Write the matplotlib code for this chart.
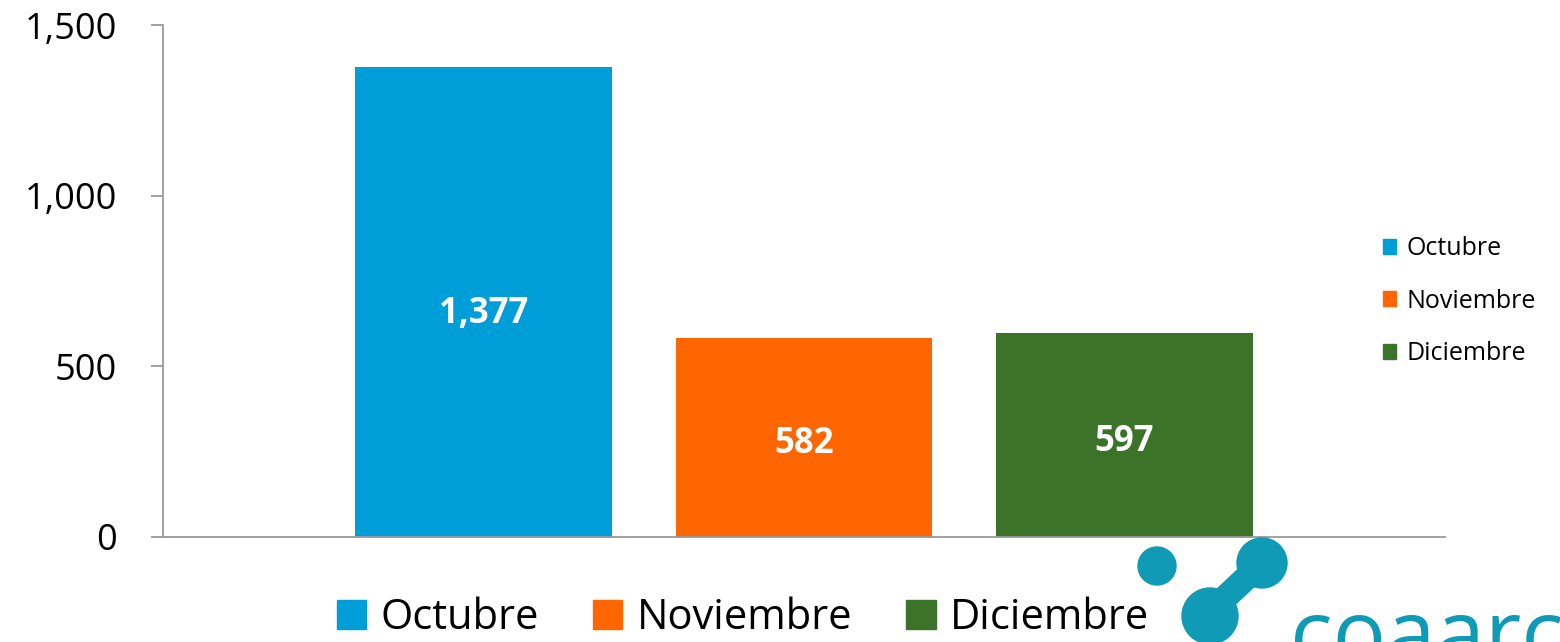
import matplotlib
matplotlib.use("Agg")
import matplotlib.pyplot as plt
from matplotlib.patches import Patch, Circle

categories = ["Octubre", "Noviembre", "Diciembre"]
values = [1377, 582, 597]
value_labels = ["1,377", "582", "597"]
colors = ["#009ED8", "#FF6600", "#3C7328"]
yticks = [0, 500, 1000, 1500]
ytick_labels = ["0", "500", "1,000", "1,500"]

plt.rcParams['font.family'] = ['Open Sans', 'DejaVu Sans']

W, H = 1560, 642
fig = plt.figure(figsize=(W / 100, H / 100), dpi=100)
ax = fig.add_axes([163 / W, 1 - 537 / H, (1445 - 163) / W, (537 - 25) / H])

x = [0, 1, 2]
bars = ax.bar(x, values, width=0.8, color=colors, zorder=2)
offsets = [-35, -20, -20]
for b, lab, off in zip(bars, value_labels, offsets):
    ax.text(b.get_x() + b.get_width() / 2, b.get_height() / 2 + off, lab,
            ha="center", va="center", color="white", fontsize=25, fontweight="bold")

ax.set_xlim(-1.0, 3.0)
ax.set_ylim(0, 1500)
ax.set_yticks(yticks)
ax.set_yticklabels(ytick_labels, fontsize=26)
ax.set_xticks([])
for s in ["top", "right"]:
    ax.spines[s].set_visible(False)
for s in ["left", "bottom"]:
    ax.spines[s].set_color("#9A9A9A")
    ax.spines[s].set_linewidth(1.3)
ax.tick_params(axis="y", length=9, width=1.3, color="#9A9A9A", pad=24)

# right legend (small)
handles = [Patch(facecolor=c, edgecolor=c) for c in colors]
leg1 = fig.legend(handles, categories, loc="center left", bbox_to_anchor=(1360 / W, 1 - 301 / H),
                  frameon=False, fontsize=18, handlelength=0.55, handleheight=0.55,
                  handletextpad=0.4, labelspacing=1.1)

# bottom legend (large)
leg2 = fig.legend(handles, categories, loc="center", bbox_to_anchor=(743 / W, 1 - 618 / H),
                  ncol=3, frameon=False, fontsize=30, handlelength=0.7, handleheight=0.7,
                  handletextpad=0.35, columnspacing=1.3)

# logo (decorative)
logo = "#0F9AB6"
lax = fig.add_axes([0, 0, 1, 1], zorder=5)
lax.set_xlim(0, W)
lax.set_ylim(H, 0)
lax.axis("off")
lax.plot([1212, 1262], [610, 563], color=logo, lw=18, solid_capstyle="round")
for cx, cy, r in [(1157, 566, 19), (1262, 563, 25), (1210, 616, 28)]:
    lax.add_patch(Circle((cx, cy), r, color=logo))
lax.text(1290, 664, "coaarc", color=logo, fontsize=64, ha="left", va="baseline",
         family=["Open Sans", "DejaVu Sans"])

fig.savefig("out.png", dpi=100)
